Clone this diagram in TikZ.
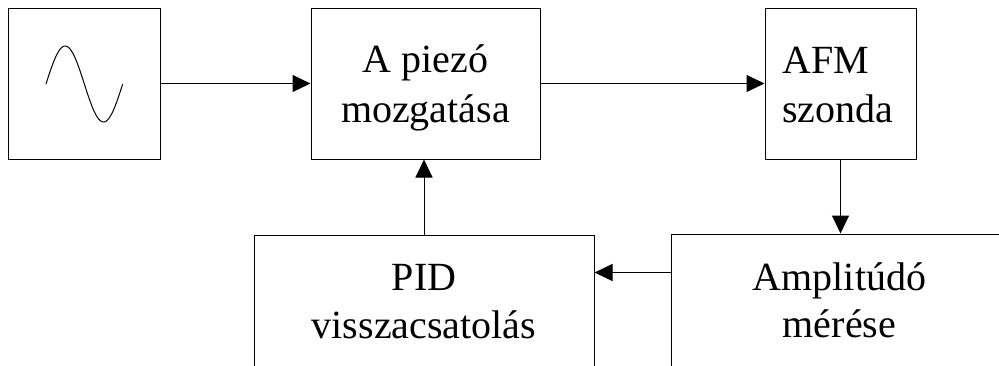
\documentclass[tikz,border=0pt]{standalone}
\usepackage{fontspec}
\setmainfont{Liberation Serif}
\usetikzlibrary{arrows.meta}
\begin{document}
\begin{tikzpicture}[x=1pt,y=1pt,
  box/.style={draw=black, line width=1pt, inner sep=0pt, rectangle},
  lbl/.style={inner sep=0pt, font=\fontsize{40}{48}\selectfont, anchor=base},
  lblw/.style={lbl, anchor=base west},
  conn/.style={draw=black, line width=1pt, -{Triangle[length=18pt,width=17pt]}}]
\useasboundingbox (0,0) rectangle (999,-365);
\clip (0,0) rectangle (999,-365);
% boxes
\node[box, minimum width=152pt, minimum height=151pt] (sine) at (84,-83.5) {};
\node[box, minimum width=229pt, minimum height=151pt] (piezo) at (425.5,-83.5) {};
\node[box, minimum width=151pt, minimum height=151pt] (afm) at (840.5,-83.5) {};
\node[box, minimum width=340pt, minimum height=185pt] (pid) at (424,-327.5) {};
\node[box, minimum width=337pt, minimum height=186pt] (amp) at (839.5,-327) {};
% sine icon
\draw[line width=1pt] plot[domain=0:360, samples=72, smooth] ({46+\x/360*76.7}, {-84+38*sin(\x)});
% labels
\node[lbl] (piezoA) at (425.5,-72) {A piezó};
\node[lbl] (piezoB) at (425.5,-122) {mozgatása};
\node[lblw] (afmA) at (782,-73) {AFM};
\node[lblw] (afmB) at (782,-122) {szonda};
\node[lbl] (pidA) at (424,-290) {PID};
\node[lbl] (pidB) at (424,-338) {visszacsatolás};
\node[lbl] (ampA) at (839.5,-290) {Amplitúdó};
\node[lbl] (ampB) at (839.5,-337) {mérése};
% connectors
\draw[conn] (sine.east) -- (piezo.west);
\draw[conn] (piezo.east) -- (afm.west);
\draw[conn] (afm.south) -- (afm.south |- amp.north);
\coordinate (fb) at ([yshift=-39pt]amp.north west);
\draw[conn] (fb) -- (fb -| pid.east);
\draw[conn] (pid.north) -- (pid.north |- piezo.south);
\end{tikzpicture}
\end{document}
